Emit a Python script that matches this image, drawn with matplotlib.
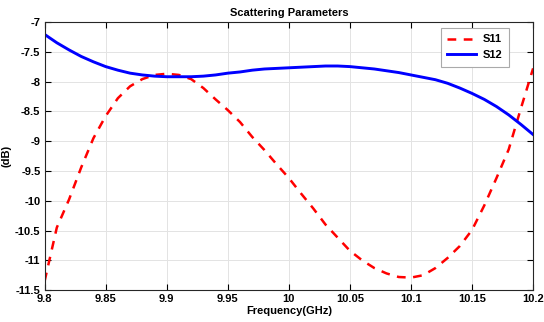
import matplotlib
matplotlib.use("Agg")
import matplotlib.pyplot as plt

freq = [9.80, 9.81, 9.82, 9.83, 9.84, 9.85, 9.86, 9.87, 9.88, 9.89,
        9.90, 9.91, 9.92, 9.93, 9.94, 9.95, 9.96, 9.97, 9.98, 9.99,
        10.00, 10.01, 10.02, 10.03, 10.04, 10.05, 10.06, 10.07, 10.08, 10.09,
        10.10, 10.11, 10.12, 10.13, 10.14, 10.15, 10.16, 10.17, 10.18, 10.19, 10.20]
s11 = [-11.35, -10.45, -9.98, -9.44, -8.95, -8.58, -8.28, -8.08, -7.96, -7.89,
       -7.87, -7.89, -7.96, -8.11, -8.30, -8.48, -8.68, -8.93, -9.15, -9.39,
       -9.62, -9.88, -10.13, -10.40, -10.62, -10.84, -11.00, -11.13, -11.22, -11.28,
       -11.29, -11.25, -11.13, -10.96, -10.76, -10.49, -10.08, -9.62, -9.14, -8.45, -7.78]
s12 = [-7.21, -7.35, -7.47, -7.58, -7.67, -7.75, -7.81, -7.86, -7.89, -7.91,
       -7.92, -7.92, -7.92, -7.91, -7.89, -7.86, -7.84, -7.81, -7.79, -7.78,
       -7.77, -7.76, -7.75, -7.74, -7.74, -7.75, -7.77, -7.79, -7.82, -7.85,
       -7.89, -7.93, -7.97, -8.03, -8.11, -8.20, -8.30, -8.42, -8.56, -8.72, -8.89]

xticks = [9.8, 9.85, 9.9, 9.95, 10.0, 10.05, 10.1, 10.15, 10.2]
xticklabels = ["9.8", "9.85", "9.9", "9.95", "10", "10.05", "10.1", "10.15", "10.2"]
yticks = [-7, -7.5, -8, -8.5, -9, -9.5, -10, -10.5, -11, -11.5]
yticklabels = ["-7", "-7.5", "-8", "-8.5", "-9", "-9.5", "-10", "-10.5", "-11", "-11.5"]

plt.rcParams['font.family'] = ['Liberation Sans', 'DejaVu Sans']
plt.rcParams['font.weight'] = 'bold'

fig = plt.figure(figsize=(5.44, 3.22), dpi=100)
ax = fig.add_axes([0.082, 0.099, 0.898, 0.833])

ax.plot(freq, s11, color='#ff0000', linestyle=(0, (3.5, 3.0)), linewidth=1.8, label='S11')
ax.plot(freq, s12, color='#0000ff', linestyle='-', linewidth=2.1, label='S12')

ax.set_xlim(9.8, 10.2)
ax.set_ylim(-11.5, -7)
ax.set_xticks(xticks)
ax.set_xticklabels(xticklabels)
ax.set_yticks(yticks)
ax.set_yticklabels(yticklabels)
ax.tick_params(direction='in', top=True, right=True, labelsize=8, length=4, width=0.8, pad=3)
for lab in ax.get_xticklabels() + ax.get_yticklabels():
    lab.set_fontweight('bold')
ax.grid(True, color='#e3e3e3', linewidth=0.7)
ax.set_axisbelow(True)
for sp in ax.spines.values():
    sp.set_color('#262626')
    sp.set_linewidth(0.8)

ax.set_title('Scattering Parameters', fontsize=8, fontweight='bold', pad=4)
ax.set_xlabel('Frequency(GHz)', fontsize=8, fontweight='bold', labelpad=1)
ax.set_ylabel('(dB)', fontsize=8, fontweight='bold')
ax.yaxis.set_label_coords(-0.068, 0.5)

leg = ax.legend(loc='upper right', bbox_to_anchor=(0.951, 0.978), borderaxespad=0,
                fontsize=8, fancybox=False, framealpha=1, edgecolor='#aaaaaa',
                handlelength=2.6, handletextpad=0.6, borderpad=0.6, labelspacing=0.5)
for t in leg.get_texts():
    t.set_fontweight('bold')
leg.get_frame().set_linewidth(0.8)

fig.savefig('out.png', dpi=100)
